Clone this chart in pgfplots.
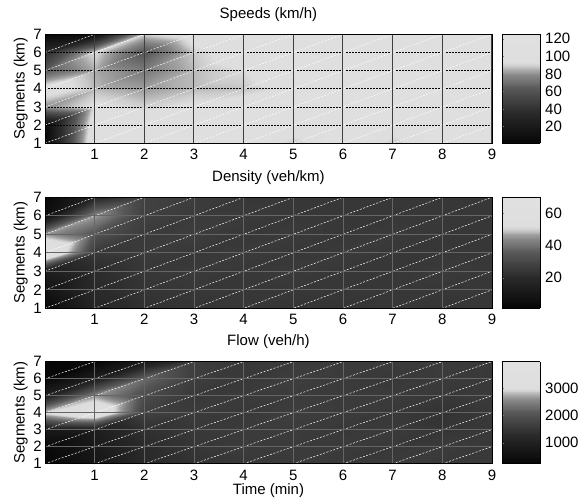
\begin{filecontents*}[overwrite]{conn.dat}
0 1 11
0 11 10
1 2 12
1 12 11
2 3 13
2 13 12
3 4 14
3 14 13
4 5 15
4 15 14
5 6 16
5 16 15
6 7 17
6 17 16
7 8 18
7 18 17
8 9 19
8 19 18
10 11 21
10 21 20
11 12 22
11 22 21
12 13 23
12 23 22
13 14 24
13 24 23
14 15 25
14 25 24
15 16 26
15 26 25
16 17 27
16 27 26
17 18 28
17 28 27
18 19 29
18 29 28
20 21 31
20 31 30
21 22 32
21 32 31
22 23 33
22 33 32
23 24 34
23 34 33
24 25 35
24 35 34
25 26 36
25 36 35
26 27 37
26 37 36
27 28 38
27 38 37
28 29 39
28 39 38
30 31 41
30 41 40
31 32 42
31 42 41
32 33 43
32 43 42
33 34 44
33 44 43
34 35 45
34 45 44
35 36 46
35 46 45
36 37 47
36 47 46
37 38 48
37 48 47
38 39 49
38 49 48
40 41 51
40 51 50
41 42 52
41 52 51
42 43 53
42 53 52
43 44 54
43 54 53
44 45 55
44 55 54
45 46 56
45 56 55
46 47 57
46 57 56
47 48 58
47 58 57
48 49 59
48 59 58
50 51 61
50 61 60
51 52 62
51 62 61
52 53 63
52 63 62
53 54 64
53 64 63
54 55 65
54 65 64
55 56 66
55 66 65
56 57 67
56 67 66
57 58 68
57 68 67
58 59 69
58 69 68
\end{filecontents*}
\documentclass[border=0pt]{standalone}
\usepackage{fontspec}
\setmainfont{Liberation Sans}
\usepackage{pgfplots}
\usepackage{pgfplotstable}
\usepgfplotslibrary{patchplots}
\pgfplotsset{compat=1.18}
\newcommand{\fs}{\fontsize{15}{18}\selectfont}

\pgfplotstableread[row sep=\\]{
x y v\\
0 1 3\\ 1 1 110\\ 2 1 112\\ 3 1 108\\ 4 1 110\\ 5 1 88\\ 6 1 110\\ 7 1 88\\ 8 1 110\\ 9 1 112\\
0 2 5\\ 1 2 105\\ 2 2 105\\ 3 2 105\\ 4 2 108\\ 5 2 100\\ 6 2 110\\ 7 2 100\\ 8 2 110\\ 9 2 112\\
0 3 80\\ 1 3 95\\ 2 3 90\\ 3 3 95\\ 4 3 100\\ 5 3 108\\ 6 3 110\\ 7 3 110\\ 8 3 110\\ 9 3 112\\
0 4 100\\ 1 4 87\\ 2 4 83\\ 3 4 87\\ 4 4 88\\ 5 4 95\\ 6 4 110\\ 7 4 110\\ 8 4 110\\ 9 4 112\\
0 5 65\\ 1 5 85\\ 2 5 75\\ 3 5 87\\ 4 5 92\\ 5 5 105\\ 6 5 110\\ 7 5 110\\ 8 5 110\\ 9 5 112\\
0 6 37\\ 1 6 92\\ 2 6 62\\ 3 6 89\\ 4 6 100\\ 5 6 108\\ 6 6 110\\ 7 6 110\\ 8 6 110\\ 9 6 112\\
0 7 3\\ 1 7 10\\ 2 7 90\\ 3 7 100\\ 4 7 105\\ 5 7 105\\ 6 7 108\\ 7 7 110\\ 8 7 110\\ 9 7 112\\
}\speed

\pgfplotstableread[row sep=\\]{
x y v\\
0 1 3\\ 1 1 18\\ 2 1 23\\ 3 1 24\\ 4 1 25\\ 5 1 24\\ 6 1 24\\ 7 1 25\\ 8 1 24\\ 9 1 25\\
0 2 8\\ 1 2 20\\ 2 2 24\\ 3 2 25\\ 4 2 25\\ 5 2 25\\ 6 2 25\\ 7 2 25\\ 8 2 25\\ 9 2 25\\
0 3 14\\ 1 3 21\\ 2 3 25\\ 3 3 26\\ 4 3 25\\ 5 3 26\\ 6 3 25\\ 7 3 25\\ 8 3 26\\ 9 3 25\\
0 4 70\\ 1 4 25\\ 2 4 26\\ 3 4 25\\ 4 4 26\\ 5 4 25\\ 6 4 26\\ 7 4 25\\ 8 4 25\\ 9 4 25\\
0 5 46\\ 1 5 34\\ 2 5 26\\ 3 5 27\\ 4 5 25\\ 5 5 26\\ 6 5 25\\ 7 5 26\\ 8 5 25\\ 9 5 25\\
0 6 6\\ 1 6 46\\ 2 6 28\\ 3 6 26\\ 4 6 26\\ 5 6 25\\ 6 6 25\\ 7 6 25\\ 8 6 25\\ 9 6 25\\
0 7 2\\ 1 7 18\\ 2 7 28\\ 3 7 27\\ 4 7 25\\ 5 7 25\\ 6 7 25\\ 7 7 25\\ 8 7 25\\ 9 7 25\\
}\density

\pgfplotstableread[row sep=\\]{
x y v\\
0 1 250\\ 1 1 700\\ 2 1 1250\\ 3 1 1450\\ 4 1 1550\\ 5 1 1600\\ 6 1 1550\\ 7 1 1600\\ 8 1 1550\\ 9 1 1600\\
0 2 350\\ 1 2 800\\ 2 2 1300\\ 3 2 1500\\ 4 2 1600\\ 5 2 1600\\ 6 2 1600\\ 7 2 1550\\ 8 2 1600\\ 9 2 1550\\
0 3 750\\ 1 3 900\\ 2 3 1400\\ 3 3 1550\\ 4 3 1600\\ 5 3 1600\\ 6 3 1550\\ 7 3 1600\\ 8 3 1500\\ 9 3 1550\\
0 4 3000\\ 1 4 3700\\ 2 4 1700\\ 3 4 1600\\ 4 4 1550\\ 5 4 1650\\ 6 4 1600\\ 7 4 1550\\ 8 4 1450\\ 9 4 1550\\
0 5 1000\\ 1 5 2700\\ 2 5 1900\\ 3 5 1550\\ 4 5 1600\\ 5 5 1600\\ 6 5 1600\\ 7 5 1600\\ 8 5 1550\\ 9 5 1600\\
0 6 300\\ 1 6 1000\\ 2 6 2300\\ 3 6 1650\\ 4 6 1550\\ 5 6 1650\\ 6 6 1600\\ 7 6 1550\\ 8 6 1600\\ 9 6 1550\\
0 7 250\\ 1 7 300\\ 2 7 800\\ 3 7 1650\\ 4 7 1550\\ 5 7 1600\\ 6 7 1600\\ 7 7 1600\\ 8 7 1600\\ 9 7 1550\\
}\flow

\pgfplotsset{
  colormap={tg}{gray(0cm)=(0.02) gray(29cm)=(0.17) gray(50cm)=(0.34) gray(62cm)=(0.52) gray(67cm)=(0.64) gray(71cm)=(0.80) gray(74cm)=(0.87) gray(100cm)=(0.88)},
  hm/.style={
    scale only axis, width=447pt,
    xmin=0, xmax=9, ymin=1, ymax=7,
    xtick={1,...,9}, ytick={1,...,7},
    major tick length=0pt,
    axis on top,
    tick label style={font=\fs},
    /pgf/number format/assume math mode=true,
    xticklabel style={anchor=north, inner sep=0pt, yshift=-6pt},
    yticklabel style={anchor=east, inner sep=0pt, xshift=-3pt},
    ylabel={Segments (km)},
    label style={font=\fs},
    ylabel style={at={(axis description cs:-0.038,0.5)}, anchor=south, inner sep=0pt},
    title style={at={(axis description cs:0.5,1)}, anchor=south, yshift=6.5pt, font=\fs, inner sep=0pt},
    axis line style={line width=0.8pt},
    colormap name=tg,
    colorbar sampled,
    colorbar style={
      scale only axis, width=38pt, samples=120,
      at={(parent axis.north east)}, anchor=north west, xshift=1.46pt,
      major tick length=2.5pt, tick align=inside,
      ytick pos=left, yticklabel pos=right,
      yticklabel style={anchor=west, inner sep=0pt, xshift=5pt, font=\fs},
      /pgf/number format/assume math mode=true,
      axis line style={line width=0.8pt},
      scaled y ticks=false,
    },
  },
  heat/.style={patch, shader=interp, patch table=conn.dat, point meta=explicit},
  diag/.style={white, line width=0.5pt, dash pattern=on 2pt off 1.5pt},
  seg/.style={black, line width=0.8pt, dash pattern=on 2pt off 1pt on 2pt off 1pt on 2pt off 1pt on 2pt off 1pt on 2pt off 1pt on 2pt off 1pt on 2pt off 1pt on 2pt off 1pt on 2pt off 1pt on 2pt off 1pt on 2pt off 1pt on 2pt off 1pt on 2pt off 1pt on 2pt off 1pt on 2pt off 5.667pt},
}
\newcommand{\diaglines}{\addplot[diag, unbounded coords=jump] coordinates {(0,-7) (9,2) (nan,nan) (0,-6) (9,3) (nan,nan) (0,-5) (9,4) (nan,nan) (0,-4) (9,5) (nan,nan) (0,-3) (9,6) (nan,nan) (0,-2) (9,7) (nan,nan) (0,-1) (9,8) (nan,nan) (0,0) (9,9) (nan,nan) (0,1) (9,10) (nan,nan) (0,2) (9,11) (nan,nan) (0,3) (9,12) (nan,nan) (0,4) (9,13) (nan,nan) (0,5) (9,14) (nan,nan) (0,6) (9,15)};}
\newcommand{\hsegs}{\addplot[seg, unbounded coords=jump] coordinates {(0.07,2) (9,2) (nan,nan) (0.07,3) (9,3) (nan,nan) (0.07,4) (9,4) (nan,nan) (0.07,5) (9,5) (nan,nan) (0.07,6) (9,6) (nan,nan) (0.07,7) (9,7)};}

\begin{document}
\begin{tikzpicture}
\useasboundingbox (0,0) rectangle (581pt,503pt);
\begin{axis}[hm, at={(45pt,359.7pt)}, anchor=south west, height=109pt,
  title={Speeds (km/h)}, point meta min=1, point meta max=125,
  xmajorgrids, grid style={black!75, line width=1pt},
  colorbar style={ytick={20,40,60,80,100,120}}]
\addplot[heat] table[meta=v] {\speed};
\hsegs
\diaglines
\end{axis}
\begin{axis}[hm, at={(45pt,194.7pt)}, anchor=south west, height=111pt,
  title={Density (veh/km)}, point meta min=1, point meta max=70,
  xmajorgrids, ymajorgrids, grid style={black!60, line width=0.6pt},
  colorbar style={ytick={20,40,60}}]
\addplot[heat] table[meta=v] {\density};
\hsegs
\diaglines
\end{axis}
\begin{axis}[hm, at={(45pt,39.3pt)}, anchor=south west, height=102pt,
  title={Flow (veh/h)}, point meta min=230, point meta max=3980,
  xlabel={Time (min)},
  xlabel style={at={(axis description cs:0.5,0)}, anchor=north, yshift=-20pt, inner sep=0pt},
  xmajorgrids, ymajorgrids, grid style={black!60, line width=0.6pt},
  colorbar style={ytick={1000,2000,3000}, yticklabels={1000,2000,3000}}]
\addplot[heat] table[meta=v] {\flow};
\hsegs
\diaglines
\end{axis}
\end{tikzpicture}
\end{document}
